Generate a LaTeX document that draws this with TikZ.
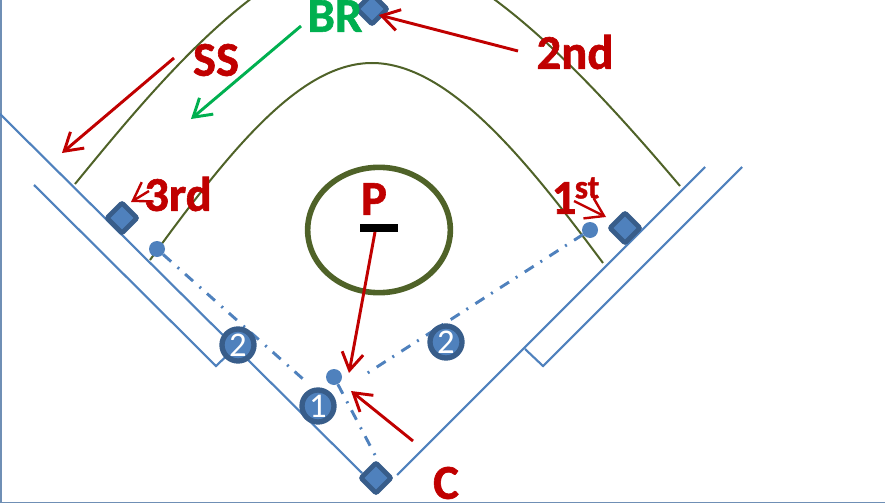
\documentclass[tikz,border=0pt]{standalone}
\usepackage{fontspec}
\setmainfont[BoldFeatures={FakeBold=1.2}]{Carlito}
\usetikzlibrary{arrows.meta,shapes.geometric}
\definecolor{foul}{HTML}{4F81BD}
\definecolor{edge}{HTML}{385D8A}
\definecolor{olive}{HTML}{4F6228}
\definecolor{redc}{HTML}{C00000}
\definecolor{greenc}{HTML}{00B050}
\definecolor{frame}{HTML}{6F8FB5}
\tikzset{
  foulline/.style={foul,line width=1.6pt},
  arcline/.style={olive,line width=1.5pt},
  dashline/.style={foul,line width=2.2pt,dash pattern=on 8pt off 6.5pt on 1.5pt off 6pt},
  redarrow/.style={redc,line width=2.2pt,-{Straight Barb[length=13pt,width=16pt,line width=2.2pt]}},
  redsmall/.style={redc,line width=1.8pt,-{Straight Barb[length=13pt,width=17pt,line width=1.8pt]}},
  greenarrow/.style={greenc,line width=2.2pt,-{Straight Barb[length=13pt,width=16pt,line width=2.2pt]}},
  basemark/.style={draw=edge,fill=foul,line width=3.6pt,rounded corners=1.5pt,rotate=45,minimum size=16pt,inner sep=0pt},
  numbered/.style={circle,draw=edge,fill=foul,line width=4pt,minimum size=24pt,inner sep=0pt,text=white,font=\fontsize{26}{26}\selectfont},
  fielder/.style={circle,fill=foul,minimum size=12pt,inner sep=0pt},
  redlabel/.style={text=redc,inner sep=0pt,font=\fontsize{36.5}{36.5}\bfseries\selectfont},
  greenlabel/.style={text=greenc,inner sep=0pt,font=\fontsize{36.5}{36.5}\bfseries\selectfont},
  smalllabel/.style={text=redc,inner sep=0pt,font=\fontsize{25}{25}\bfseries\selectfont},
}
\begin{document}
\begin{tikzpicture}[x=0.75pt,y=-0.75pt]
\useasboundingbox (0,0) rectangle (885,503);
\clip (0,0) rectangle (885,503);
\draw[frame,line width=1.5pt] (0.5,0) -- (0.5,502.5) -- (885,502.5);
% foul lines
\coordinate (lineA) at (0,114);
\coordinate (lineB) at (362,473);
\coordinate (lineC) at (397,475);
\coordinate (lineD) at (705,167);
\coordinate (boxA) at (34,185);
\coordinate (boxB) at (216,366);
\coordinate (boxC) at (238,345);
\coordinate (boxD) at (525,349);
\coordinate (boxE) at (543,366);
\coordinate (boxF) at (742,167);
\draw[foulline] (lineA) -- (lineB);
\draw[foulline] (lineC) -- (lineD);
\draw[foulline] (boxA) -- (boxB) -- (boxC);
\draw[foulline] (boxD) -- (boxE) -- (boxF);
% infield arcs
\draw[arcline] (150,260) .. controls (230,150) and (300,63) .. (372,63) .. controls (450,63) and (530,165) .. (603,263);
\draw[arcline] (75,184) .. controls (160,80) and (270,-52) .. (372,-52) .. controls (470,-52) and (590,80) .. (680,186);
% mound
\node[draw=olive,line width=4.2pt,ellipse,minimum width=107pt,minimum height=94pt,inner sep=0pt] (mound) at (379,230) {};
\node[fill=black,minimum width=28pt,minimum height=5.5pt,inner sep=0pt] (rubber) at (379,228) {};
% fielders
\node[fielder] (dotthird) at (157,249) {};
\node[fielder] (dotfirst) at (590,230) {};
\node[fielder] (dotmid) at (334,377) {};
% bases
\node[basemark] (third) at (122,218) {};
\node[basemark] (first) at (625,228) {};
\node[basemark] (second) at (372,9) {};
\node[basemark] (home) at (376,478) {};
% dash-dot lines
\coordinate (endleft) at (303,379);
\coordinate (endright) at (366,374);
\coordinate (endhome) at (375,455);
\draw[dashline] (dotthird) -- (endleft);
\draw[dashline] (dotfirst) -- (endright);
\draw[dashline] (dotmid) -- (endhome);
% numbered circles
\node[numbered] (numa) at (238,345) {2};
\node[numbered] (numb) at (446,342) {2};
\node[numbered] (numc) at (318,406) {1};
% labels
\node[redlabel] (ss) at (216,60) {SS};
\node[greenlabel] (br) at (335,16) {BR};
\node[redlabel] (thirdl) at (178,194) {3rd};
\node[redlabel] (secondl) at (575,52) {2nd};
\node[redlabel] (p) at (374,199) {P};
\node[redlabel] (firstl) at (564,198) {1};
\node[smalllabel] (st) at (587,188) {st};
\node[redlabel] (c) at (446,483) {C};
% arrows
\coordinate (ssfrom) at (174,58);
\coordinate (ssto) at (62,153);
\coordinate (brfrom) at (301,26);
\coordinate (brto) at (191,119);
\coordinate (secondfrom) at (518,51);
\coordinate (secondto) at (379,15);
\coordinate (pfrom) at (375,232);
\coordinate (pto) at (349,373);
\coordinate (cfrom) at (413,441);
\coordinate (cto) at (351,391);
\coordinate (thirdfrom) at (149,191);
\coordinate (thirdto) at (131,202);
\coordinate (firstfrom) at (574,201);
\coordinate (firstto) at (606,217);
\draw[redarrow] (ssfrom) -- (ssto);
\draw[greenarrow] (brfrom) -- (brto);
\draw[redarrow] (secondfrom) -- (secondto);
\draw[redarrow] (pfrom) -- (pto);
\draw[redarrow] (cfrom) -- (cto);
\draw[redsmall] (thirdfrom) -- (thirdto);
\draw[redsmall] (firstfrom) -- (firstto);
\end{tikzpicture}
\end{document}
